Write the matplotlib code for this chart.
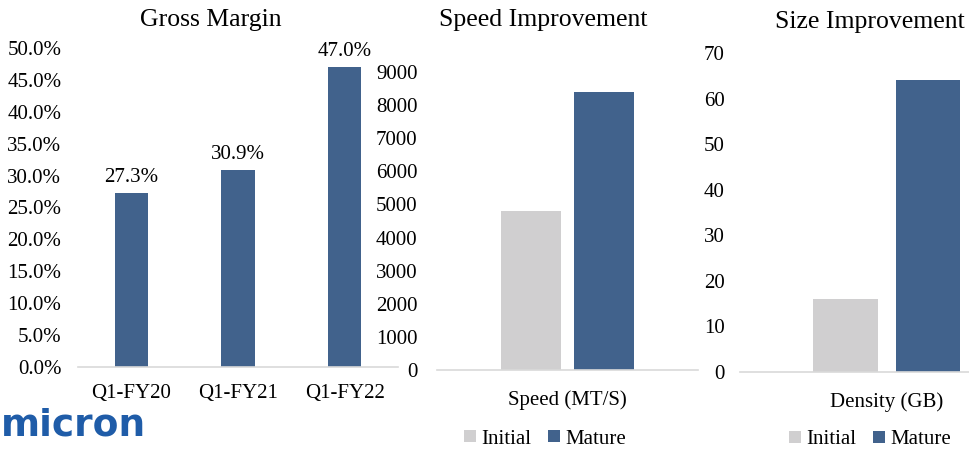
import matplotlib
matplotlib.use("Agg")
import matplotlib.pyplot as plt
from matplotlib.patches import Patch
from matplotlib.ticker import FuncFormatter

plt.rcParams['font.family'] = ['Liberation Serif', 'DejaVu Serif']

# ---- data ----
gm_quarters = ["Q1-FY20", "Q1-FY21", "Q1-FY22"]
gm_values = [0.273, 0.309, 0.470]

speed_category = ["Speed (MT/S)"]
speed_initial = [4800]
speed_mature = [8400]

size_category = ["Density (GB)"]
size_initial = [16]
size_mature = [64]

series_names = ["Initial", "Mature"]

BLUE = "#41628C"
GREY = "#D0CFD0"
AXIS = "#D9D9D9"
W, H = 970, 451

fig = plt.figure(figsize=(W / 100, H / 100), dpi=100)


def px_axes(left, right, top, bottom):
    return fig.add_axes([left / W, 1 - bottom / H, (right - left) / W, (bottom - top) / H])


def style(ax, ypad):
    for s in ["top", "right", "left"]:
        ax.spines[s].set_visible(False)
    ax.spines["bottom"].set_color(AXIS)
    ax.spines["bottom"].set_linewidth(1.2)
    ax.tick_params(axis="both", length=0, labelsize=15, colors="#000000")
    ax.tick_params(axis="y", pad=ypad)


# ---- Gross margin ----
ax1 = px_axes(78, 398, 48, 367)
x1 = range(len(gm_quarters))
bars = ax1.bar(x1, gm_values, width=0.31, color=BLUE)
ax1.set_xlim(-0.5, len(gm_quarters) - 0.5)
ax1.set_ylim(0, 0.5)
ax1.set_yticks([i * 0.05 for i in range(11)])
ax1.yaxis.set_major_formatter(FuncFormatter(lambda v, p: f"{v * 100:.1f}%"))
ax1.set_xticks(list(x1))
ax1.set_xticklabels(gm_quarters)
style(ax1, 12)
ax1.tick_params(axis="x", pad=12)
ax1.bar_label(bars, labels=[f"{v * 100:.1f}%" for v in gm_values], padding=4.5, fontsize=15)
fig.text(211 / W, 1 - 20 / H, "Gross Margin", ha="center", va="center", fontsize=18.5)

# ---- Speed improvement ----
ax2 = px_axes(437, 698, 72, 370)
ax2.bar([-0.14], speed_initial, width=0.23, color=GREY)
ax2.bar([0.14], speed_mature, width=0.23, color=BLUE)
ax2.set_xlim(-0.5, 0.5)
ax2.set_ylim(0, 9000)
ax2.set_yticks(range(0, 9001, 1000))
ax2.set_xticks([0])
ax2.set_xticklabels(speed_category)
style(ax2, 14)
ax2.tick_params(axis="x", pad=14.5)
fig.text(543 / W, 1 - 20 / H, "Speed Improvement", ha="center", va="center", fontsize=18.5)

# ---- Size improvement ----
ax3 = px_axes(740, 1034, 53, 372)
ax3.bar([-0.14], size_initial, width=0.22, color=GREY)
ax3.bar([0.14], size_mature, width=0.22, color=BLUE)
ax3.set_xlim(-0.5, 0.5)
ax3.set_ylim(0, 70)
ax3.set_yticks(range(0, 71, 10))
ax3.set_xticks([0])
ax3.set_xticklabels(size_category)
style(ax3, 11)
ax3.tick_params(axis="x", pad=14.5)
fig.text(870 / W, 1 - 22 / H, "Size Improvement", ha="center", va="center", fontsize=18.5)

# ---- legends ----
handles = [Patch(facecolor=GREY, edgecolor="none"), Patch(facecolor=BLUE, edgecolor="none")]
legkw = dict(ncol=2, frameon=False, fontsize=15, handlelength=0.55, handleheight=0.55,
             handletextpad=0.25, columnspacing=0.85, borderpad=0, loc="center")
fig.legend(handles, series_names, bbox_to_anchor=(545 / W, 1 - 439 / H), **legkw)
fig.legend(handles, series_names, bbox_to_anchor=(870 / W, 1 - 440 / H), **legkw)

# ---- logo ----
fig.text(1 / W, 1 - 426 / H, "micron", ha="left", va="center", fontsize=27,
         fontweight="bold", color="#1F5CA8", family="DejaVu Sans")

fig.savefig("out.png", dpi=100)
